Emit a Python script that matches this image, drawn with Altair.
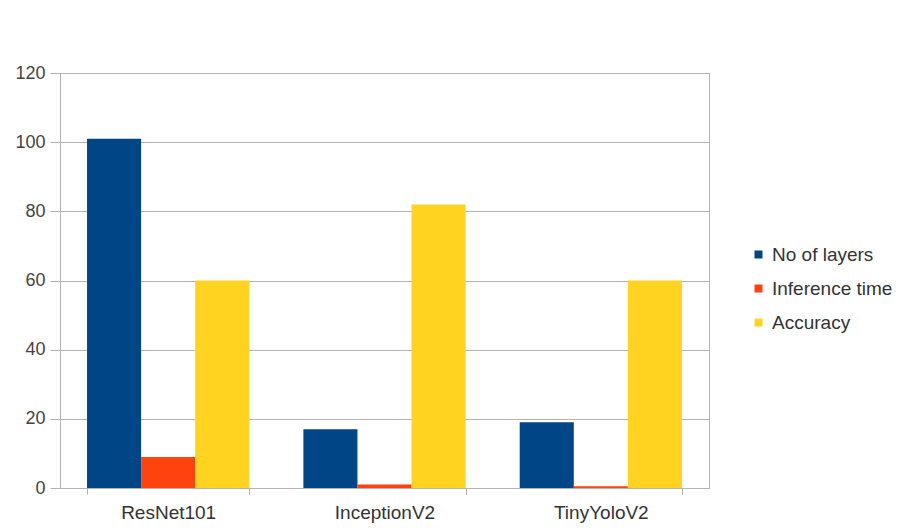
import altair as alt
import pandas as pd

models = ["ResNet101", "InceptionV2", "TinyYoloV2"]
series = ["No of layers", "Inference time", "Accuracy"]
no_of_layers = [101, 17, 19]
inference_time = [9, 1, 0.5]
accuracy = [60, 82, 60]
colors = ["#004586", "#ff420e", "#ffd320"]

rows = []
for i, m in enumerate(models):
    for s, vals in zip(series, [no_of_layers, inference_time, accuracy]):
        rows.append({"Model": m, "Series": s, "Value": vals[i]})
df = pd.DataFrame(rows)

font = "Liberation Sans"

chart = (
    alt.Chart(df)
    .mark_bar()
    .encode(
        x=alt.X(
            "Model:N",
            sort=models,
            title=None,
            scale=alt.Scale(paddingInner=0.25, paddingOuter=0.125),
            axis=alt.Axis(
                labelAngle=0,
                labelFontSize=19,
                labelColor="#333333",
                labelFont=font,
                labelPadding=9,
                tickBand="extent",
                tickSize=6,
                tickColor="#b3b3b3",
                domainColor="#b3b3b3",
                grid=False,
            ),
        ),
        xOffset=alt.XOffset("Series:N", sort=series),
        y=alt.Y(
            "Value:Q",
            title=None,
            scale=alt.Scale(domain=[0, 120]),
            axis=alt.Axis(
                values=[0, 20, 40, 60, 80, 100, 120],
                labelFontSize=18,
                labelColor="#444444",
                labelFont=font,
                labelPadding=5,
                tickSize=10,
                tickColor="#b3b3b3",
                domainColor="#b3b3b3",
                gridColor="#b3b3b3",
            ),
        ),
        color=alt.Color(
            "Series:N",
            sort=series,
            scale=alt.Scale(domain=series, range=colors),
            legend=alt.Legend(
                title=None,
                orient="none",
                legendX=689,
                legendY=172,
                symbolType="square",
                symbolSize=64,
                symbolStrokeWidth=0,
                labelFontSize=19,
                labelFont=font,
                labelColor="#333333",
                rowPadding=14,
                labelOffset=4,
            ),
        ),
    )
    .properties(width=649, height=415)
    .configure(
        autosize=alt.AutoSizeParams(type="none"),
        padding={"left": 60, "top": 73, "right": 190, "bottom": 40},
        background="white",
    )
    .configure_view(stroke="#b3b3b3", strokeWidth=1)
)

chart.save("out.html", embed_options={"renderer": "svg", "actions": False})
